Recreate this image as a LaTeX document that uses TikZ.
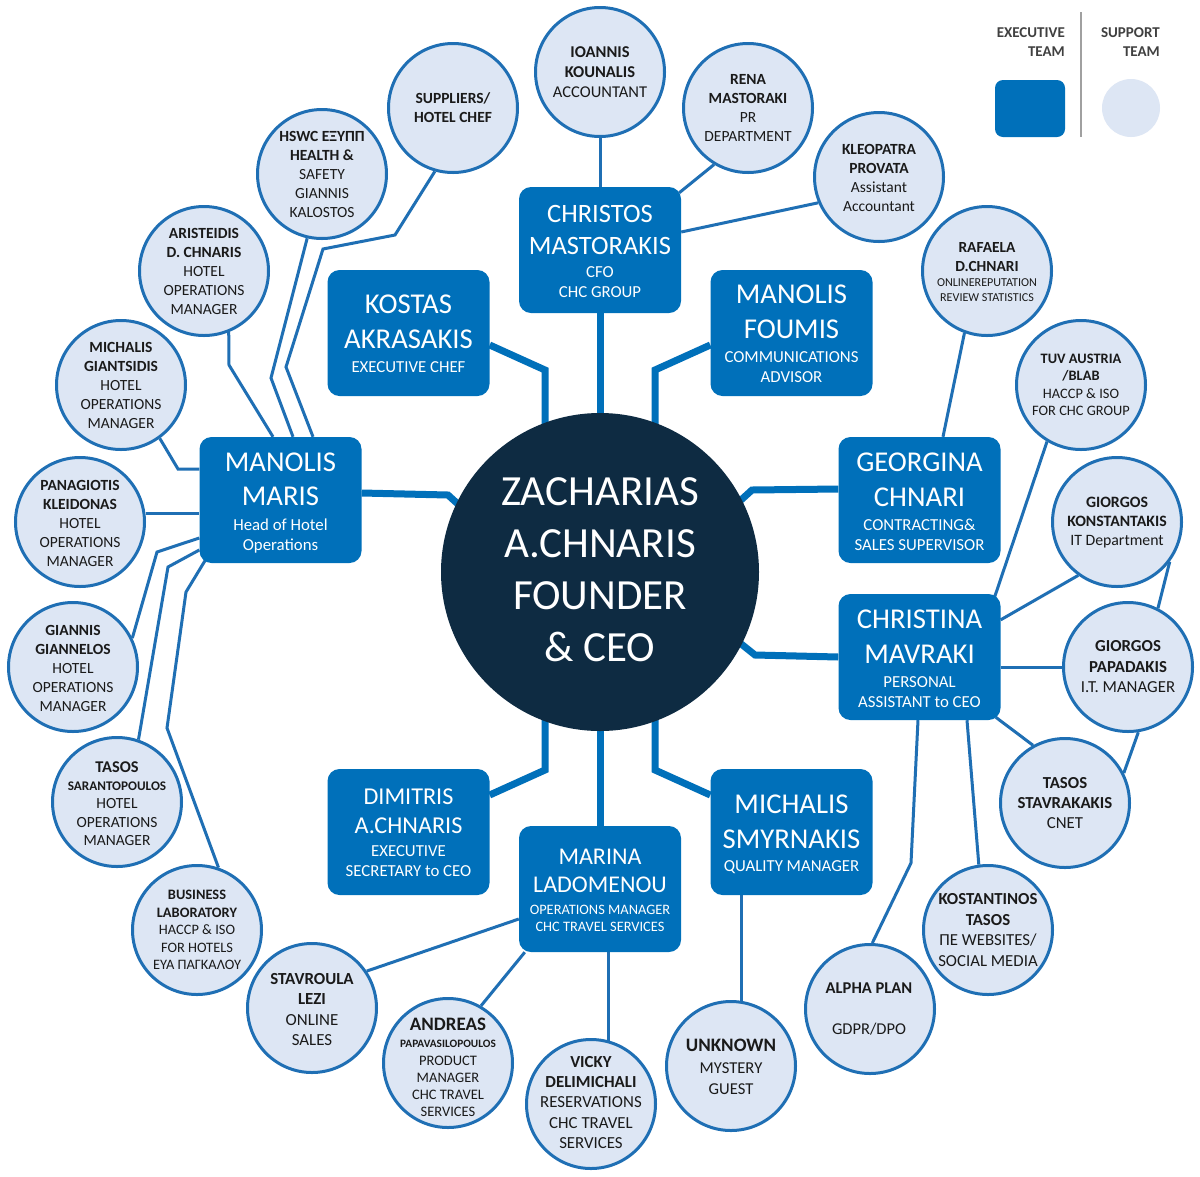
\documentclass[tikz,border=0pt]{standalone}
\usepackage{fontspec}
\setmainfont{Carlito}
\usetikzlibrary{backgrounds,calc}
\definecolor{boxblue}{RGB}{0,112,186}
\definecolor{ringblue}{RGB}{31,111,180}
\definecolor{suplight}{RGB}{221,230,244}
\definecolor{ceonavy}{RGB}{14,43,66}
\definecolor{txtdark}{RGB}{26,26,26}
\definecolor{legtxt}{RGB}{64,64,64}
\definecolor{divgray}{RGB}{160,160,160}
\newcommand\fsz[2]{\fontsize{#1}{#2}\selectfont}
\tikzset{
  exec/.style={fill=boxblue, rounded corners=12pt, minimum width=162pt, minimum height=126pt, inner sep=0pt},
  sup/.style={circle, draw=ringblue, line width=3pt, fill=suplight, minimum size=129pt, inner sep=0pt},
  nm/.style={text=white, align=center, inner sep=0pt, font=\fsz{28.7}{35}},
  rl/.style={text=white, align=center, inner sep=0pt, font=\fsz{16.8}{20}},
  st/.style={text=txtdark, align=center, inner sep=0pt},
  thinc/.style={draw=ringblue, line width=3pt},
  thickc/.style={draw=boxblue, line width=7pt},
  leg/.style={text=legtxt, align=right, inner sep=0pt, font=\fsz{15}{19}\bfseries}
}
\begin{document}
\begin{tikzpicture}[x=1pt,y=-1pt]
\useasboundingbox (0,0) rectangle (1200,1176);

% ---------- CEO ----------
\node[circle, fill=ceonavy, minimum size=318pt, inner sep=0pt] (ceo) at (600,572) {};
\node[text=white, align=center, inner sep=0pt, font=\fsz{43}{52}] (ceoT) at (600,570) {ZACHARIAS\\A.CHNARIS\\FOUNDER\\\& CEO};

% ---------- executive boxes ----------
\node[exec] (christos) at (600,250) {};
\node[nm, font=\fsz{26.5}{32}] (christosN) at (600,230) {CHRISTOS\\MASTORAKIS};
\node[rl] (christosR) at (600,282.5) {CFO\\CHC GROUP};

\node[exec] (kostas) at (408.5,333) {};
\node[nm] (kostasN) at (408.5,321.5) {KOSTAS\\AKRASAKIS};
\node[rl] (kostasR) at (408.5,367) {EXECUTIVE CHEF};

\node[exec] (foumis) at (791.5,333) {};
\node[nm] (foumisN) at (791.5,311.5) {MANOLIS\\FOUMIS};
\node[rl] (foumisR) at (791.5,367.5) {COMMUNICATIONS\\ADVISOR};

\node[exec] (maris) at (280.5,500) {};
\node[nm, font=\fsz{28.7}{34}] (marisN) at (280.5,479) {MANOLIS\\MARIS};
\node[rl] (marisR) at (280.5,536) {Head of Hotel\\Operations};

\node[exec] (georgina) at (919.5,500) {};
\node[nm] (georginaN) at (919.5,479.5) {GEORGINA\\CHNARI};
\node[rl] (georginaR) at (919.5,535) {CONTRACTING\&\\SALES SUPERVISOR};

\node[exec] (christina) at (919.5,657) {};
\node[nm] (christinaN) at (919.5,637) {CHRISTINA\\MAVRAKI};
\node[rl] (christinaR) at (919.5,692) {PERSONAL\\ASSISTANT to CEO};

\node[exec] (dimitris) at (408.5,832) {};
\node[nm, font=\fsz{24.2}{29}] (dimitrisN) at (408.5,811.5) {DIMITRIS\\A.CHNARIS};
\node[rl] (dimitrisR) at (408.5,861.5) {EXECUTIVE\\SECRETARY to CEO};

\node[exec] (marina) at (600,889) {};
\node[nm, font=\fsz{24}{28}] (marinaN) at (600,871) {MARINA\\LADOMENOU};
\node[rl, font=\fsz{14.4}{17.5}] (marinaR) at (600,918.5) {OPERATIONS MANAGER\\CHC TRAVEL SERVICES};

\node[exec] (michalis) at (791.5,832) {};
\node[nm] (michalisN) at (791.5,822) {MICHALIS\\SMYRNAKIS};
\node[rl] (michalisR) at (791.5,867) {QUALITY MANAGER};

% ---------- support circles ----------
\node[sup] (ioannis) at (600,72) {};
\node[st, font=\fsz{16.5}{20}] (ioannisT) at (600,72) {\textbf{IOANNIS}\\\textbf{KOUNALIS}\\ACCOUNTANT};

\node[sup] (rena) at (748,108) {};
\node[st, font=\fsz{15.5}{19}] (renaT) at (748,107.5) {\textbf{RENA}\\\textbf{MASTORAKI}\\PR\\DEPARTMENT};

\node[sup] (kleopatra) at (879,177) {};
\node[st, font=\fsz{15.5}{19}] (kleopatraT) at (879,177.5) {\textbf{KLEOPATRA}\\\textbf{PROVATA}\\Assistant\\Accountant};

\node[sup] (suppliers) at (453,108) {};
\node[st, font=\fsz{15.5}{19}] (suppliersT) at (453,107.5) {\textbf{SUPPLIERS/}\\\textbf{HOTEL CHEF}};

\node[sup] (hswc) at (322,174) {};
\node[st, font=\fsz{15.5}{19}] (hswcT) at (322,174) {\textbf{HSWC ΕΞΥΠΠ}\\\textbf{HEALTH \&}\\SAFETY\\GIANNIS\\KALOSTOS};

\node[sup] (aristeidis) at (204,271) {};
\node[st, font=\fsz{15.5}{19}] (aristeidisT) at (204,271) {\textbf{ARISTEIDIS}\\\textbf{D. CHNARIS}\\HOTEL\\OPERATIONS\\MANAGER};

\node[sup] (michalisg) at (121,385) {};
\node[st, font=\fsz{15.5}{19}] (michalisgT) at (121,385) {\textbf{MICHALIS}\\\textbf{GIANTSIDIS}\\HOTEL\\OPERATIONS\\MANAGER};

\node[sup] (panagiotis) at (80,522) {};
\node[st, font=\fsz{15.5}{19}] (panagiotisT) at (80,523) {\textbf{PANAGIOTIS}\\\textbf{KLEIDONAS}\\HOTEL\\OPERATIONS\\MANAGER};

\node[sup] (giannis) at (73,667) {};
\node[st, font=\fsz{15.5}{19}] (giannisT) at (73,668) {\textbf{GIANNIS}\\\textbf{GIANNELOS}\\HOTEL\\OPERATIONS\\MANAGER};

\node[sup] (tasoss) at (117,802) {};
\node[st, font=\fsz{15.5}{18.3}] (tasossT) at (117,803.5) {{\fsz{16.4}{18.3}\bfseries TASOS}\\{\fsz{13.2}{18.3}\bfseries SARANTOPOULOS}\\HOTEL\\OPERATIONS\\MANAGER};

\node[sup] (business) at (197,930) {};
\node[st, font=\fsz{14.4}{17.5}] (businessT) at (197,930) {\textbf{BUSINESS}\\\textbf{LABORATORY}\\HACCP \& ISO\\FOR HOTELS\\ΕΥΑ ΠΑΓΚΑΛΟΥ};

\node[sup] (stavroula) at (312,1008) {};
\node[st, font=\fsz{16.9}{20.3}] (stavroulaT) at (312,1009.5) {\textbf{STAVROULA}\\\textbf{LEZI}\\ONLINE\\SALES};

\node[sup] (andreas) at (448,1063) {};
\node[st, font=\fsz{14.5}{17.3}] (andreasT) at (448,1067.5) {{\fsz{19}{17.3}\bfseries ANDREAS}\\{\fsz{11.3}{17.3}\bfseries PAPAVASILOPOULOS}\\PRODUCT\\MANAGER\\CHC TRAVEL\\SERVICES};

\node[sup] (vicky) at (591,1104) {};
\node[st, font=\fsz{16.85}{20.3}] (vickyT) at (591,1102.5) {\textbf{VICKY}\\\textbf{DELIMICHALI}\\RESERVATIONS\\CHC TRAVEL\\SERVICES};

\node[sup] (unknown) at (731,1066) {};
\node[st, font=\fsz{16.6}{20.5}] (unknownT) at (731,1067) {{\fsz{19}{20.5}\bfseries UNKNOWN}\\[1.5pt]MYSTERY\\GUEST};

\node[sup] (alpha) at (870,1009) {};
\node[st, font=\fsz{16.5}{20.5}] (alphaT) at (869,1009) {\textbf{ALPHA PLAN}\\\mbox{}\\GDPR/DPO};

\node[sup] (kostantinos) at (988,930) {};
\node[st, font=\fsz{16.8}{20.5}] (kostantinosT) at (988,930) {\textbf{KOSTANTINOS}\\\textbf{TASOS}\\ΠΕ WEBSITES/\\SOCIAL MEDIA};

\node[sup] (tasosst) at (1065,803) {};
\node[st, font=\fsz{16.8}{20}] (tasosstT) at (1065,803) {\textbf{TASOS}\\\textbf{STAVRAKAKIS}\\CNET};

\node[sup] (papadakis) at (1128,667) {};
\node[st, font=\fsz{16.8}{20.5}] (papadakisT) at (1128,667) {\textbf{GIORGOS}\\\textbf{PAPADAKIS}\\I.T. MANAGER};

\node[sup] (konstantakis) at (1117,522) {};
\node[st, font=\fsz{15.8}{19}] (konstantakisT) at (1117,523) {\textbf{GIORGOS}\\\textbf{KONSTANTAKIS}\\IT Department};

\node[sup] (tuv) at (1081,385) {};
\node[st, font=\fsz{14.4}{17.5}] (tuvT) at (1081,385) {\textbf{TUV AUSTRIA}\\\textbf{/BLAB}\\HACCP \& ISO\\FOR CHC GROUP};

\node[sup] (rafaela) at (987,271) {};
\node[st, font=\fsz{15.4}{19}] (rafaelaT) at (987,272) {\textbf{RAFAELA}\\\textbf{D.CHNARI}\\[-4pt]{\fsz{12.1}{15}ONLINEREPUTATION}\\[-4pt]{\fsz{12.1}{15}REVIEW STATISTICS}};

% ---------- legend ----------
\node[leg, anchor=east] (legExT) at (1065,42.5) {EXECUTIVE\\TEAM};
\node[leg, anchor=east] (legSpT) at (1160,42.5) {SUPPORT\\TEAM};
\node[fill=boxblue, rounded corners=8pt, minimum width=70pt, minimum height=57pt, inner sep=0pt] (legEx) at (1030,108.5) {};
\node[circle, fill=suplight, minimum size=58pt, inner sep=0pt] (legSp) at (1131,108) {};
\coordinate (divTop) at (1081,12);
\coordinate (divBot) at (1081,137);
\draw[divgray, line width=2pt] (divTop) -- (divBot);

% ---------- connectors ----------
\begin{scope}[on background layer]
\fill[white] (0,0) rectangle (1200,1176);
% thick: CEO to executive team
\draw[thickc] (christos.south) -- (ceo.center);
\draw[thickc] (marina.north) -- (ceo.center);
\draw[thickc] ($(kostas.east)+(0,12)$) -- (545,370) -- (545,460);
\draw[thickc] ($(foumis.west)+(0,12)$) -- (655,370) -- (655,460);
\draw[thickc] ($(maris.east)+(0,-7)$) -- (448,495) -- (470,515);
\draw[thickc] ($(georgina.west)+(0,-11)$) -- (752,490) -- (730,510);
\draw[thickc] (christina.west) -- (755,655) -- (730,635);
\draw[thickc] ($(dimitris.east)+(0,-37)$) -- (545,770) -- (545,690);
\draw[thickc] ($(michalis.west)+(0,-37)$) -- (655,770) -- (655,690);
% thin: support team
\draw[thinc] (ioannis.south) -- (christos.north);
\draw[thinc] (rena.-121) -- ($(christos.north east)+(-2,6)$);
\draw[thinc] (kleopatra.-157) -- ($(christos.east)+(0,-18)$);
\draw[thinc] (suppliers.-106.5) -- (395,235) -- (323,249) -- (286,367) -- ($(maris.north)+(32.5,0)$);
\draw[thinc] (hswc.-103.2) -- (271,378) -- ($(maris.north)+(12.5,0)$);
\draw[thinc] (aristeidis.-68.7) -- (229,365) -- ($(maris.north)+(-7.5,0)$);
\draw[thinc] (michalisg.-54.7) -- (178,469) -- ($(maris.west)+(0,-31)$);
\draw[thinc] (panagiotis.7) -- (panagiotis.7 -| maris.west);
\draw[thinc] (giannis.26.6) -- (157,552) -- ($(maris.west)+(0,38)$);
\draw[thinc] (tasoss.71.6) -- (168,567) -- ($(maris.west)+(0,50)$);
\draw[thinc] (business.71.6) -- (167,728) -- (186,592) -- ($(maris.south west)+(6,-3)$);
\draw[thinc] (stavroula.34.6) -- ($(marina.west)+(0,30)$);
\draw[thinc] (andreas.60.8) -- ($(marina.south west)+(6,0)$);
\draw[thinc] ($(marina.south)+(8,0)$) coordinate (vickyTop) -- (vickyTop |- vicky.center);
\draw[thinc] ($(michalis.south)+(-50.5,0)$) coordinate (unkTop) -- (unkTop |- unknown.center);
\draw[thinc] (alpha.88) -- (911,863) -- ($(christina.south)+(-1.5,0)$);
\draw[thinc] (kostantinos.98.7) -- ($(christina.south)+(47.5,0)$);
\draw[thinc] (tasosst.119.6) -- ($(christina.south east)+(-5,-3)$);
\draw[thinc] (papadakis.west -| christina.east) -- (papadakis.west);
\draw[thinc] (konstantakis.-126.9) -- ($(christina.north east)+(0,26)$);
\draw[thinc] (tuv.-121.6) -- ($(christina.north east)+(-6,3)$);
\draw[thinc] (rafaela.-110.9) -- ($(georgina.north)+(23.5,0)$);
\draw[thinc] (tasosst.27.6) -- (papadakis.-81.4);
\draw[thinc] (papadakis.63) -- (konstantakis.-37);
\end{scope}
\end{tikzpicture}
\end{document}
